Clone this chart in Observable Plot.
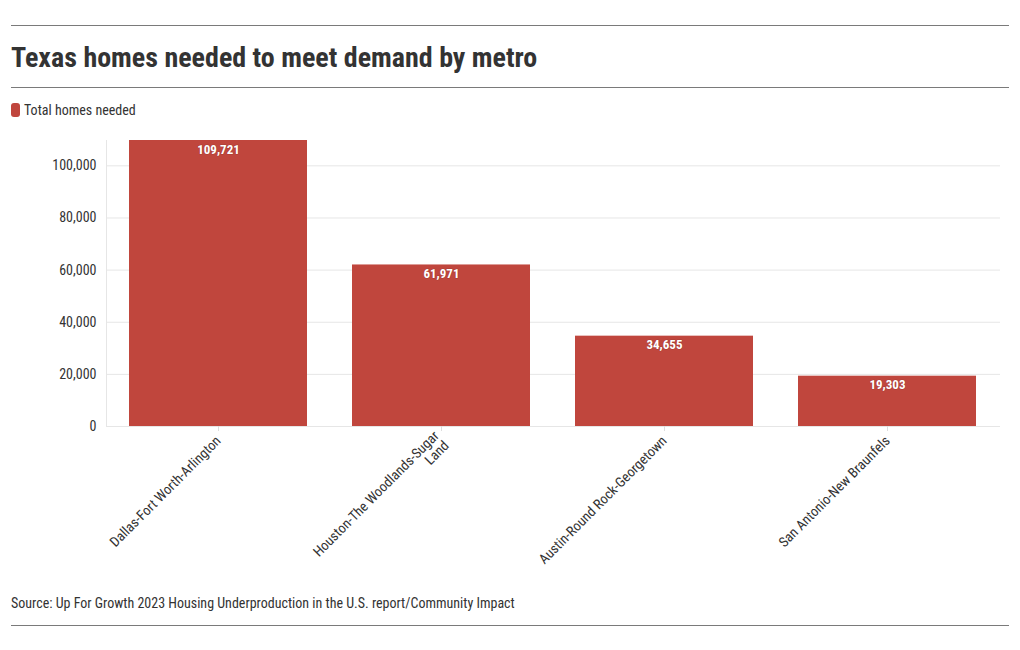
<!DOCTYPE html>
<html><head><meta charset="utf-8">
<script src="https://cdn.jsdelivr.net/npm/d3@7"></script>
<script src="https://cdn.jsdelivr.net/npm/@observablehq/plot@0.6"></script>
<style>
body{margin:0;background:#fff;font-family:"Liberation Sans Narrow","Roboto Condensed",Roboto,sans-serif;color:#333}
#wrap{position:relative;width:1020px;height:650px;overflow:hidden}
.rule{position:absolute;left:11px;width:998px;height:1px;background:#7a7a7a}
#title{position:absolute;left:11px;top:40px;margin:0;font-size:28px;font-weight:bold;color:#333;white-space:nowrap;line-height:36px}
#legend{position:absolute;left:11px;top:101px;font-size:14px;line-height:18px;color:#333;display:flex;align-items:center}
#legend .sw{display:inline-block;width:9px;height:14px;border-radius:3px;background:#c0463d;margin-right:4px}
#chart{position:absolute;left:0;top:125px}
#source{position:absolute;left:11px;top:594px;font-size:14px;line-height:18px;color:#333;white-space:nowrap}
</style></head>
<body>
<div id="wrap">
  <div class="rule" style="top:25px"></div>
  <h1 id="title">Texas homes needed to meet demand by metro</h1>
  <div class="rule" style="top:87px"></div>
  <div id="legend"><span class="sw"></span><span>Total homes needed</span></div>
  <div id="chart"></div>
  <div id="source">Source: Up For Growth 2023 Housing Underproduction in the U.S. report/Community Impact</div>
  <div class="rule" style="top:625px"></div>
</div>
<script>
const metros = ["Dallas-Fort Worth-Arlington", "Houston-The Woodlands-Sugar Land", "Austin-Round Rock-Georgetown", "San Antonio-New Braunfels"];
const tickLabels = ["Dallas-Fort Worth-Arlington", "Houston-The Woodlands-Sugar\nLand", "Austin-Round Rock-Georgetown", "San Antonio-New Braunfels"];
const homesNeeded = [109721, 61971, 34655, 19303];
const yTicks = [0, 20000, 40000, 60000, 80000, 100000];

const data = metros.map((m, i) => ({metro: m, value: homesNeeded[i]}));
const fmt = d3.format(",");
const font = getComputedStyle(document.body).fontFamily;

const chart = Plot.plot({
  width: 1020,
  height: 460,
  marginLeft: 106,
  marginRight: 20,
  marginTop: 15,
  marginBottom: 159,
  style: {fontFamily: font, fontSize: "14px", color: "#333", background: "transparent"},
  x: {domain: metros, paddingInner: 0.2, paddingOuter: 0.1, label: null},
  y: {domain: [0, d3.max(homesNeeded)], label: null},
  marks: [
    Plot.gridY(yTicks, {stroke: "#e6e6e6", strokeOpacity: 1}),
    Plot.frame({anchor: "left", stroke: "#e6e6e6", strokeOpacity: 1}),
    Plot.ruleY([0], {stroke: "#e6e6e6"}),
    Plot.barY(data, {x: "metro", y: "value", fill: "#c0463d"}),
    Plot.text(data, {x: "metro", y: "value", text: d => fmt(d.value), fill: "white", fontWeight: "bold", fontSize: 13, lineAnchor: "top", dy: 4, stroke: "#7a2a24", strokeWidth: 1.2, strokeOpacity: 0.35}),
    Plot.axisY({ticks: yTicks, tickFormat: fmt, tickSize: 0, tickPadding: 10, fontSize: 14, fill: "#333", label: null}),
    Plot.axisX({tickRotate: -45, tickSize: 5, tickPadding: 7, stroke: "#dddddd", fill: "#333", fontSize: 14, label: null,
      tickFormat: d => tickLabels[metros.indexOf(d)]})
  ]
});
document.getElementById("chart").append(chart);
</script>
</body></html>
